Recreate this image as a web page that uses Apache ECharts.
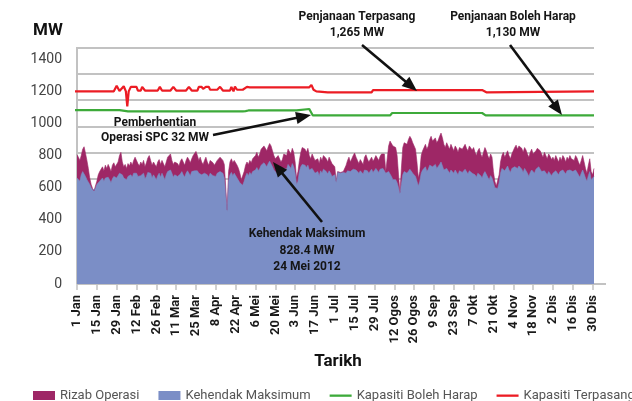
<!DOCTYPE html>
<html><head><meta charset="utf-8">
<script src="https://cdn.jsdelivr.net/npm/echarts@6/dist/echarts.min.js"></script>
<style>html,body{margin:0;padding:0;background:#fff}#c{width:632px;height:401px}</style>
</head><body><div id="c"></div>
<script>
const tickLabels = ['1 Jan','15 Jan','29 Jan','12 Feb','26 Feb','11 Mar','25 Mar','8 Apr','22 Apr','6 Mei','20 Mei','3 Jun','17 Jun','1 Jul','15 Jul','29 Jul','12 Ogos','26 Ogos','9 Sep','23 Sep','7 Okt','21 Okt','4 Nov','18 Nov','2 Dis','16 Dis','30 Dis'];
const yTicks = [0,200,400,600,800,1000,1200,1400];

// Daily values, 1 Jan .. 31 Dis 2012 (MW)
const rizabOperasiTop = [
805,790,770,800,840,855,815,770,720,660,620,595,580,610,
640,680,700,712,730,705,740,720,745,725,700,740,755,730,
740,760,800,820,760,730,745,720,750,735,760,740,770,790,
780,750,735,760,745,770,730,755,785,800,770,740,760,745,
730,760,775,745,770,750,730,760,790,800,810,770,745,760,
770,750,735,765,780,760,740,770,790,775,755,780,800,795,
826,800,770,790,760,745,770,790,760,740,770,780,755,740,
750,770,760,790,800,770,745,740,460,700,760,780,755,770,
760,740,720,690,650,640,700,740,760,745,770,755,780,790,
800,820,790,810,840,830,860,845,830,855,875,860,830,800,
780,770,800,790,760,775,810,820,800,840,830,810,845,820,
760,660,700,770,820,850,860,840,820,845,800,780,810,790,
770,760,780,750,790,770,800,810,780,760,790,770,750,760,
730,640,700,700,695,705,700,710,740,770,790,760,780,800,
816,790,770,750,775,760,745,790,805,780,760,770,790,765,
780,800,790,770,795,810,800,810,700,690,860,890,880,860,
870,850,800,680,570,720,850,880,890,870,900,920,905,880,
860,840,760,660,700,800,830,850,870,840,860,900,920,890,
900,910,880,895,920,940,910,870,850,880,860,840,870,850,
830,860,845,820,850,860,840,855,870,845,830,860,850,835,
850,820,800,830,845,810,790,820,850,830,800,780,810,790,
700,640,610,620,680,760,800,820,790,810,830,800,780,810,
820,850,865,840,860,870,845,820,850,835,810,790,820,840,
810,800,830,845,855,830,810,790,820,800,780,810,795,775,
790,770,800,780,760,790,770,800,785,760,790,775,800,780,
790,770,800,785,760,740,770,800,760,720,690,740,780,700,680,720];

const kehendakMaksimum = [
660,650,640,680,700,690,670,650,640,620,600,585,575,595,
620,630,640,650,660,640,660,650,665,650,630,655,670,660,
660,670,690,700,680,660,670,650,670,660,680,665,690,700,
690,670,660,675,665,690,655,670,695,705,690,660,680,665,
650,675,690,665,690,670,650,680,700,705,710,690,665,680,
690,670,660,685,700,680,665,690,705,695,675,700,710,705,
710,705,690,700,680,670,690,700,680,665,690,695,675,665,
670,690,680,700,705,690,660,655,450,640,680,695,675,690,
680,660,650,630,620,615,640,670,690,675,695,680,700,705,
710,725,705,720,740,735,755,745,730,750,765,755,730,710,
700,690,715,705,680,690,720,730,715,745,740,720,750,730,
690,620,640,700,730,745,750,740,725,740,710,700,720,705,
690,680,700,675,705,690,715,720,700,685,705,690,670,680,
680,630,695,695,690,700,695,700,690,705,710,700,705,715,
720,710,700,690,705,695,685,710,720,705,690,700,715,695,
705,720,710,695,715,725,720,725,690,680,700,690,670,650,
660,650,630,600,560,620,680,700,710,690,700,715,705,690,
690,670,640,610,640,690,710,720,730,700,715,740,750,730,
740,745,720,730,745,760,735,710,700,720,705,690,710,700,
690,710,700,680,705,710,695,705,715,700,685,705,700,690,
700,680,665,690,700,675,660,685,700,690,665,650,675,660,
630,600,590,595,630,690,720,730,705,715,735,710,695,720,
710,730,740,720,735,740,715,695,720,710,690,670,695,710,
700,690,715,725,730,715,700,690,705,695,680,700,690,675,
690,680,705,695,680,700,690,710,700,685,705,695,710,700,
700,690,710,700,680,665,690,710,685,660,640,675,700,650,640,670];

// Capacity lines: day index (0 = 1 Jan) and MW at change points
const terpasangDays = [-6,26,28,30,33,34.5,35.5,36.5,38,42,43,45,46,48,57,58.5,60,66,68,70,77,79,81,85,86,88,89,91,93,94,99,101,103,108,109,110.5,111.5,113,117,120,121,122,139,140,141,164,165.5,167,169,177,208,209,286,289,365];
const terpasangMW   = [1200,1200,1235,1202,1232,1200,1106,1200,1228,1228,1205,1205,1228,1205,1205,1228,1205,1205,1228,1205,1205,1228,1205,1205,1228,1228,1215,1228,1228,1210,1210,1228,1205,1205,1228,1200,1230,1210,1210,1228,1240,1225,1225,1218,1225,1225,1240,1210,1200,1194,1194,1208,1208,1194,1200];
const bolehHarapDays = [-6,30,36,117,118,119,121,155,164,166.5,221,222.5,286,288.5,365];
const bolehHarapMW   = [1083,1083,1075,1075,1084,1077,1081,1081,1090,1050,1050,1065,1065,1050,1050];
const gridSteps = [0,1,2,3,4,5,6,7,8,9];

const FONT = 'Roboto, "DejaVu Sans", sans-serif';
const AXIS_GRAY = '#c2c2c2';
const chart = echarts.init(document.getElementById('c'), null, {renderer:'canvas'});

function arrow(x1,y1,x2,y2){
  const dx=x2-x1, dy=y2-y1, L=Math.hypot(dx,dy), ux=dx/L, uy=dy/L;
  const hl=15, hw=6;
  const bx=x2-ux*hl, by=y2-uy*hl;
  return [
    {type:'line', z:50, shape:{x1:x1,y1:y1,x2:bx+ux*2,y2:by+uy*2}, style:{stroke:'#111', lineWidth:2.6}},
    {type:'polygon', z:50, shape:{points:[[x2,y2],[bx-uy*hw,by+ux*hw],[bx+uy*hw,by-ux*hw]]}, style:{fill:'#111'}}
  ];
}
function label(x,y,text,lh,size){
  return {type:'text', z:50, x:x, y:y, style:{text:text, font:'bold '+(size||12)+'px '+FONT, fill:'#151515',
    align:'center', verticalAlign:'middle', textAlign:'center', textVerticalAlign:'middle', lineHeight:lh||16}};
}
const LINE_ICON = 'path://M0,0M0,3.5L22,3.5L22,5.8L0,5.8ZM22,9';

const option = {
  animation:false,
  backgroundColor:'#fff',
  textStyle:{fontFamily:FONT},
  grid:{left:77, right:38, top:48, bottom:117, containLabel:false},
  legend:{
    left:33, top:389, padding:0, width:800, itemWidth:22, itemHeight:9, itemGap:19,
    textStyle:{fontSize:13, color:'#555', fontFamily:FONT},
    data:[{name:'Rizab Operasi', icon:'rect'},{name:'Kehendak Maksimum', icon:'rect'},
          {name:'Kapasiti Boleh Harap', icon:LINE_ICON},{name:'Kapasiti Terpasang', icon:LINE_ICON}]
  },
  xAxis:{
    type:'value', min:0, max:365, interval:14,
    axisLine:{show:false},
    axisTick:{show:true, length:6, lineStyle:{color:AXIS_GRAY, width:1.5}},
    splitLine:{show:false},
    axisLabel:{rotate:90, margin:11, fontSize:13, fontWeight:'bold', color:'#1a1a1a', fontFamily:FONT,
      showMaxLabel:false, formatter:function(v){ const i=Math.round(v/14); return (v%14===0 && tickLabels[i]) ? tickLabels[i] : ''; }}
  },
  yAxis:[
    {type:'value', min:0, max:9, interval:1, position:'left',
     axisLine:{show:false}, axisTick:{show:false}, axisLabel:{show:false}, splitLine:{show:false}},
    {type:'value', min:0, max:1470, interval:200, position:'left', offset:0,
     axisLine:{show:false}, axisTick:{show:false}, splitLine:{show:false},
     axisLabel:{fontSize:14, color:'#444', margin:15, fontFamily:FONT, showMaxLabel:false,
       formatter:function(v){ return yTicks.indexOf(v)>=0 ? String(v) : ''; }}}
  ],
  series:[
    {name:'grid', type:'line', yAxisIndex:0, symbol:'none', silent:true,
     data:gridSteps.map(s=>[0,s]), lineStyle:{opacity:0}, z:0},
    {name:'Rizab Operasi', type:'line', symbol:'none', yAxisIndex:1,
     data:rizabOperasiTop.map((v,i)=>[i,v]),
     lineStyle:{width:0.6, color:'#9E2766'}, itemStyle:{color:'#9E2766'},
     areaStyle:{color:'#9E2766', opacity:1}},
    {name:'Kehendak Maksimum', type:'line', symbol:'none', yAxisIndex:1,
     data:kehendakMaksimum.map((v,i)=>[i,v]),
     lineStyle:{width:0.6, color:'#7B8EC6'}, itemStyle:{color:'#7B8EC6'},
     areaStyle:{color:'#7B8EC6', opacity:1}},
    {name:'Kapasiti Boleh Harap', type:'line', symbol:'none', yAxisIndex:1, clip:false,
     data:bolehHarapDays.map((d,i)=>[d,bolehHarapMW[i]]),
     lineStyle:{width:2.2, color:'#3DAA3A'}, itemStyle:{color:'#3DAA3A'}},
    {name:'Kapasiti Terpasang', type:'line', symbol:'none', yAxisIndex:1, clip:false,
     data:terpasangDays.map((d,i)=>[d,terpasangMW[i]]),
     lineStyle:{width:2.2, color:'#EC1C24'}, itemStyle:{color:'#EC1C24'}}
  ],
  graphic:[
    {type:'text', x:48, y:31, style:{text:'MW', font:'bold 17px '+FONT, fill:'#111', align:'center', verticalAlign:'middle', textAlign:'center', textVerticalAlign:'middle'}},
    {type:'text', x:338, y:362, style:{text:'Tarikh', font:'bold 17px '+FONT, fill:'#111', align:'center', verticalAlign:'middle', textAlign:'center', textVerticalAlign:'middle'}},
    label(357,25,'Penjanaan Terpasang\n1,265 MW',16),
    label(513,25,'Penjanaan Boleh Harap\n1,130 MW',16),
    label(155,130,'Pemberhentian\nOperasi SPC 32 MW',15),
    label(307,250.5,'Kehendak Maksimum\n828.4 MW\n24 Mei 2012',16.5)
  ].concat(arrow(362,45,417,91), arrow(510,45,562,115), arrow(213,135,311,115), arrow(322,222,273,162))
};
chart.setOption(option);

// Gridlines and axis lines placed through the chart's own scales (drawn behind the series)
const xL = Math.round(chart.convertToPixel({xAxisIndex:0}, 0));
const xR = Math.round(chart.convertToPixel({xAxisIndex:0}, 365));
const yB = Math.round(chart.convertToPixel({yAxisIndex:0}, 0));
const yT = Math.round(chart.convertToPixel({yAxisIndex:0}, 9));
const extra = gridSteps.slice(1).map(s => {
  const y = Math.round(chart.convertToPixel({yAxisIndex:0}, s));
  return {type:'line', z:0, silent:true, shape:{x1:xL, y1:y, x2:xR, y2:y}, style:{stroke:AXIS_GRAY, lineWidth:2}};
});
extra.push({type:'line', z:0, silent:true, shape:{x1:xL, y1:yT-1, x2:xL, y2:yB}, style:{stroke:AXIS_GRAY, lineWidth:2}});
extra.push({type:'line', z:0, silent:true, shape:{x1:xL, y1:yB, x2:xR+12, y2:yB}, style:{stroke:AXIS_GRAY, lineWidth:2}});
chart.setOption({graphic: option.graphic.concat(extra)});
</script>
</body></html>
